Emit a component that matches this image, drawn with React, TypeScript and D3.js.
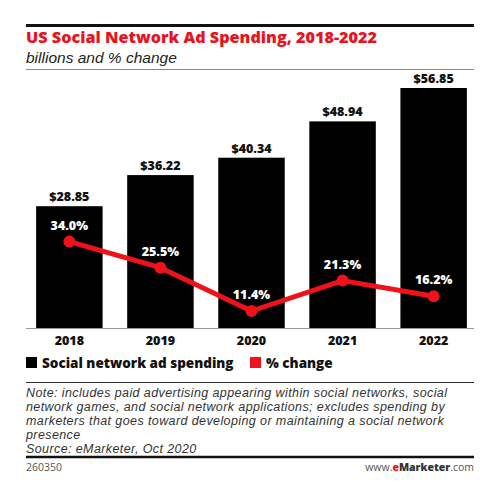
import React from "react";
import * as d3 from "d3";

const years = ["2018", "2019", "2020", "2021", "2022"];
const spending = [28.85, 36.22, 40.34, 48.94, 56.85];
const pctChange = [34.0, 25.5, 11.4, 21.3, 16.2];
const noteLines = [
  "Note: includes paid advertising appearing within social networks, social",
  "network games, and social network applications; excludes spending by",
  "marketers that goes toward developing or maintaining a social network",
  "presence",
  "Source: eMarketer, Oct 2020",
];

const W = 491;
const H = 496;
const L = 26;
const R = 474;
const base = 328;
const font = "'Open Sans', 'DejaVu Sans', sans-serif";
const noteFont = "'Liberation Sans', Arial, sans-serif";

export default function App() {
  const x = d3.scaleBand().domain(years).range([L + 1, R + 2]).paddingInner(0.27).paddingOuter(0.1);
  const y = d3.scaleLinear().domain([0, 60]).range([base, base - 253.3]);
  const yp = d3.scaleLinear().domain([0, 40]).range([346, 346 - 122.8]);
  const line = d3
    .line<number>()
    .x((_, i) => (x(years[i]) as number) + x.bandwidth() / 2)
    .y((d) => yp(d));

  return (
    <svg width={W} height={H} style={{ position: "absolute", left: 0, top: 0, background: "#fff" }}>
      <rect x={0} y={0} width={W} height={H} fill="#fff" />
      <line x1={L} x2={R} y1={25.5} y2={25.5} stroke="#111" strokeWidth={3} />
      <text x={L} y={43} fontFamily={font} fontWeight={800} fontSize={16.2} fill="#e8131c">
        US Social Network Ad Spending, 2018-2022
      </text>
      <text x={L} y={62.5} fontFamily={noteFont} fontStyle="italic" fontSize={15.5} fill="#222">
        billions and % change
      </text>
      <line x1={L} x2={R} y1={69.5} y2={69.5} stroke="#888" strokeWidth={1} />

      {years.map((yr, i) => (
        <g key={yr}>
          <rect x={x(yr)} y={y(spending[i])} width={x.bandwidth()} height={base - y(spending[i])} fill="#000" />
          <text
            x={(x(yr) as number) + x.bandwidth() / 2}
            y={y(spending[i]) - 5}
            textAnchor="middle"
            fontFamily={font}
            fontWeight={800}
            fontSize={12.5}
            fill="#111"
          >
            ${spending[i].toFixed(2)}
          </text>
          <text
            x={(x(yr) as number) + x.bandwidth() / 2}
            y={345}
            textAnchor="middle"
            fontFamily={font}
            fontWeight={800}
            fontSize={12.5}
            fill="#111"
          >
            {yr}
          </text>
        </g>
      ))}
      <line x1={L} x2={R} y1={base + 0.5} y2={base + 0.5} stroke="#999" strokeWidth={1} />

      <path d={line(pctChange) || ""} fill="none" stroke="#f0121b" strokeWidth={5} strokeLinejoin="round" />
      {pctChange.map((p, i) => {
        const cx = (x(years[i]) as number) + x.bandwidth() / 2;
        return (
          <g key={i}>
            <circle cx={cx} cy={yp(p)} r={6} fill="#f0121b" />
            <text x={cx} y={yp(p) - 12} textAnchor="middle" fontFamily={font} fontWeight={800} fontSize={12.5} fill="#fff">
              {p.toFixed(1)}%
            </text>
          </g>
        );
      })}

      <rect x={L} y={357} width={11} height={11} fill="#000" />
      <text x={42} y={367.5} fontFamily={font} fontWeight={800} fontSize={13.5} fill="#111">
        Social network ad spending
      </text>
      <rect x={250} y={357} width={11} height={11} fill="#f0121b" />
      <text x={266} y={367.5} fontFamily={font} fontWeight={800} fontSize={13.5} fill="#111">
        % change
      </text>

      <line x1={L} x2={R} y1={382.5} y2={382.5} stroke="#333" strokeWidth={1} />
      {noteLines.map((t, i) => (
        <text
          key={i}
          x={L}
          y={397 + i * 14}
          fontFamily={noteFont}
          fontStyle="italic"
          fontSize={12.5}
          letterSpacing={0.4}
          fill="#333"
        >
          {t}
        </text>
      ))}
      <line x1={L} x2={R} y1={457} y2={457} stroke="#111" strokeWidth={2.5} />
      <text x={L} y={471} fontFamily={font} fontSize={10.5} fill="#555">
        260350
      </text>
      <text x={R} y={471} textAnchor="end" fontFamily={font} fontSize={10.5} fill="#555">
        www.<tspan fill="#e8131c" fontWeight={800}>e</tspan>
        <tspan fill="#333" fontWeight={800}>Marketer</tspan>.com
      </text>
    </svg>
  );
}
